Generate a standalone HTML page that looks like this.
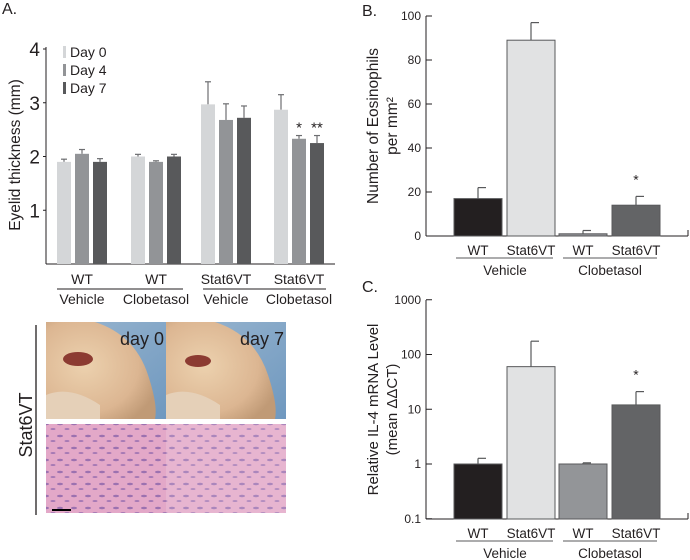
<!DOCTYPE html>
<html><head><meta charset="utf-8"><style>
body{margin:0;background:#fff;}
svg{display:block;font-family:"Liberation Sans",sans-serif;}
</style></head><body>
<svg width="690" height="560" viewBox="0 0 690 560" id="fig">
<defs>
<linearGradient id="sky" x1="0" y1="0" x2="1" y2="1"><stop offset="0" stop-color="#9bb7d0"/><stop offset="1" stop-color="#6f98bf"/></linearGradient>
<radialGradient id="skin" cx="0.35" cy="0.45" r="0.7"><stop offset="0" stop-color="#ecd1ae"/><stop offset="0.7" stop-color="#dcb692"/><stop offset="1" stop-color="#c09a76"/></radialGradient>
<pattern id="he" width="14" height="12" patternUnits="userSpaceOnUse"><rect width="14" height="12" fill="#e3a8c8"/><ellipse cx="4" cy="4" rx="3" ry="1.2" fill="#7d5aa6" opacity="0.7"/><ellipse cx="11" cy="9" rx="2.5" ry="1" fill="#7d5aa6" opacity="0.6"/></pattern>
</defs>
<text x="2" y="14" font-size="16" fill="#231f20">A.</text>
<text x="362" y="16" font-size="16" fill="#231f20">B.</text>
<text x="362" y="292" font-size="16" fill="#231f20">C.</text>
<g id="ga"></g>
<g id="gb"></g>
<g id="gc"></g>
<g>
<line x1="36" y1="325" x2="36" y2="515" stroke="#231f20" stroke-width="1.3"/>
<text transform="translate(32,425) rotate(-90)" text-anchor="middle" font-size="18" fill="#231f20">Stat6VT</text>
<g><rect x="46" y="322" width="120" height="97" fill="url(#sky)"/><path d="M46 322 L95 322 Q135 335 148 375 Q158 405 155 419 L46 419 Z" fill="url(#skin)"/><path d="M46 395 Q70 385 100 405 L100 419 L46 419Z" fill="#e5d0b8"/><ellipse cx="78" cy="359" rx="15" ry="7" fill="#8c3b32"/><text x="164" y="345" text-anchor="end" font-size="18" fill="#231f20">day 0</text></g>
<g><rect x="166" y="322" width="120" height="97" fill="url(#sky)"/><path d="M166 322 L215 322 Q255 335 268 375 Q278 405 275 419 L166 419 Z" fill="url(#skin)"/><path d="M166 395 Q190 385 220 405 L220 419 L166 419Z" fill="#e5d0b8"/><ellipse cx="198" cy="361" rx="13" ry="6" fill="#8c3b32"/><text x="284" y="345" text-anchor="end" font-size="18" fill="#231f20">day 7</text></g>
<rect x="46" y="424" width="120" height="89" fill="url(#he)"/>
<rect x="166" y="424" width="120" height="89" fill="url(#he)" opacity="0.85"/>
<line x1="52" y1="510" x2="71" y2="510" stroke="#000" stroke-width="2"/>
</g>
</svg>
<script>
const NS="http://www.w3.org/2000/svg";
function mk(p,t,a,txt){const e=document.createElementNS(NS,t);for(const k in a)e.setAttribute(k,a[k]);if(txt!==undefined)e.textContent=txt;p.appendChild(e);return e;}
// Panel A data
const aGroups=["WT","WT","Stat6VT","Stat6VT"];
const aTreat=["Vehicle","Clobetasol","Vehicle","Clobetasol"];
const aSeries=["Day 0","Day 4","Day 7"];
const aDay0=[1.9,2.0,2.97,2.87];
const aDay4=[2.05,1.9,2.68,2.33];
const aDay7=[1.9,2.0,2.72,2.25];
const aErr0=[0.05,0.04,0.42,0.28];
const aErr4=[0.08,0.02,0.3,0.06];
const aErr7=[0.06,0.04,0.22,0.14];
const aTicks=[1,2,3,4];
const aStars=[["","","",""],["","","","*"],["","","","**"]];
// Panel B data
const bCats=["WT","Stat6VT","WT","Stat6VT"];
const bVals=[17,89,1,14];
const bErr=[5,8,1.5,4];
const bTicks=[0,20,40,60,80,100];
const bStars=["","","","*"];
// Panel C data
const cCats=["WT","Stat6VT","WT","Stat6VT"];
const cVals=[1,60,1,12];
const cErrTop=[1.27,175,1.05,21];
const cTicks=[0.1,1,10,100,1000];
const cTickLabels=["0.1","1","10","100","1000"];
const cStars=["","","","*"];

// ---- Panel A
(function(){
const g=document.getElementById('ga');
const y=v=>264-v*53.75;
const ax=46, gx=[57,131,201,274], step=18, bw=14;
const cols=["#d4d6d8","#929497","#58595b"];
const vals=[aDay0,aDay4,aDay7], errs=[aErr0,aErr4,aErr7];
mk(g,'line',{x1:ax,y1:y(4)-2,x2:ax,y2:264,stroke:'#231f20','stroke-width':1});
mk(g,'line',{x1:ax,y1:264,x2:335,y2:264,stroke:'#231f20','stroke-width':1});
aTicks.forEach(t=>{mk(g,'line',{x1:ax-3,y1:y(t),x2:ax,y2:y(t),stroke:'#231f20'});
 const tl=mk(g,'text',{x:ax-6,y:y(t)+7,'text-anchor':'end','font-size':19,fill:'#231f20'},String(t));
 
 });
const tt=mk(g,'text',{transform:'translate(20,155) rotate(-90)','text-anchor':'middle','font-size':15.5,fill:'#231f20'},'Eyelid thickness (mm)');


for(let s=0;s<3;s++){for(let i=0;i<4;i++){
 const x=gx[i]+s*step, v=vals[s][i], e=errs[s][i];
 mk(g,'line',{x1:x+bw/2,y1:y(v),x2:x+bw/2,y2:y(v+e),stroke:'#6d6e71','stroke-width':1.2});
 mk(g,'line',{x1:x+bw/2-3,y1:y(v+e),x2:x+bw/2+3,y2:y(v+e),stroke:'#6d6e71','stroke-width':1.2});
 const r=mk(g,'rect',{x:x,y:y(v),width:bw,height:264-y(v),fill:cols[s]});
 
 
 if(aStars[s][i]){const st=mk(g,'text',{x:x+bw/2,y:y(v+e)-3,'text-anchor':'middle','font-size':15,fill:'#231f20'},aStars[s][i]);
  
  }
}}
for(let s=0;s<3;s++){
 mk(g,'rect',{x:63,y:46+s*18,width:3,height:12,fill:cols[s]});
 const lt=mk(g,'text',{x:70,y:57+s*18,'font-size':14,fill:'#231f20'},aSeries[s]);
 
 }
for(let i=0;i<4;i++){const cx=gx[i]+step+bw/2;
 const l=mk(g,'text',{x:cx,y:284,'text-anchor':'middle','font-size':14,fill:'#231f20'},aGroups[i]);
 
 
 const t=mk(g,'text',{x:cx,y:304,'text-anchor':'middle','font-size':14,fill:'#231f20'},aTreat[i]);
 
 }
mk(g,'line',{x1:57,y1:289,x2:183,y2:289,stroke:'#231f20'});
mk(g,'line',{x1:203,y1:289,x2:326,y2:289,stroke:'#231f20'});
})();

function barPanel(gid,y,vals,errTop,cats,stars,cols,ticks,tickLabels,yTop,yBase,title1,title2,pre,fs){
const g=document.getElementById(gid);
const ax=426, bx=[454,507,559,612], bw=48;
mk(g,'line',{x1:ax,y1:yTop,x2:ax,y2:yBase,stroke:'#231f20'});
mk(g,'line',{x1:ax,y1:yBase,x2:688,y2:yBase,stroke:'#231f20'});
mk(g,'line',{x1:688,y1:yBase,x2:688,y2:yBase-6,stroke:'#231f20'});
ticks.forEach((t,k)=>{mk(g,'line',{x1:ax,y1:y(t),x2:ax+6,y2:y(t),stroke:'#231f20'});
 const tl=mk(g,'text',{x:ax-5,y:y(t)+4,'text-anchor':'end','font-size':12,fill:'#231f20'},tickLabels[k]);
 
 });
const cy=(yTop+yBase)/2;
const t1=mk(g,'text',{transform:'translate(378,'+cy+') rotate(-90)','text-anchor':'middle','font-size':fs,fill:'#231f20'},title1);


const t2=mk(g,'text',{transform:'translate(397,'+cy+') rotate(-90)','text-anchor':'middle','font-size':fs,fill:'#231f20'},title2);


for(let i=0;i<4;i++){const x=bx[i],v=vals[i];
 mk(g,'line',{x1:x+bw/2,y1:y(v),x2:x+bw/2,y2:y(errTop[i]),stroke:'#58595b','stroke-width':1.2});
 mk(g,'line',{x1:x+bw/2,y1:y(errTop[i]),x2:x+bw/2+8,y2:y(errTop[i]),stroke:'#58595b','stroke-width':1.2});
 const r=mk(g,'rect',{x:x,y:y(v),width:bw,height:yBase-y(v),fill:cols[i],stroke:'#58595b','stroke-width':1});
 
 
 if(stars[i]){const st=mk(g,'text',{x:x+bw/2,y:y(errTop[i])-12,'text-anchor':'middle','font-size':14,fill:'#231f20'},stars[i]);
  
  }
 const l=mk(g,'text',{x:x+bw/2,y:yBase+19,'text-anchor':'middle','font-size':13.5,fill:'#231f20'},cats[i]);
 
 }
mk(g,'line',{x1:456,y1:yBase+22,x2:553,y2:yBase+22,stroke:'#58595b'});
mk(g,'line',{x1:563,y1:yBase+22,x2:657,y2:yBase+22,stroke:'#58595b'});
const v1=mk(g,'text',{x:505,y:yBase+39,'text-anchor':'middle','font-size':13.5,fill:'#231f20'},'Vehicle');


const v2=mk(g,'text',{x:610,y:yBase+39,'text-anchor':'middle','font-size':13.5,fill:'#231f20'},'Clobetasol');


}
barPanel('gb',v=>236-v*2.2,bVals,bVals.map((v,i)=>v+bErr[i]),bCats,bStars,["#231f20","#e1e2e3","#939598","#636466"],bTicks,bTicks.map(String),16,236,'Number of Eosinophils','per mm²','b',15.5);
barPanel('gc',v=>464-Math.log10(v)*54.75,cVals,cErrTop,cCats,cStars,["#231f20","#e1e2e3","#939598","#636466"],cTicks,cTickLabels,300,519,'Relative IL-4 mRNA Level','(mean ΔΔCT)','c',15);
</script>
</body></html>
